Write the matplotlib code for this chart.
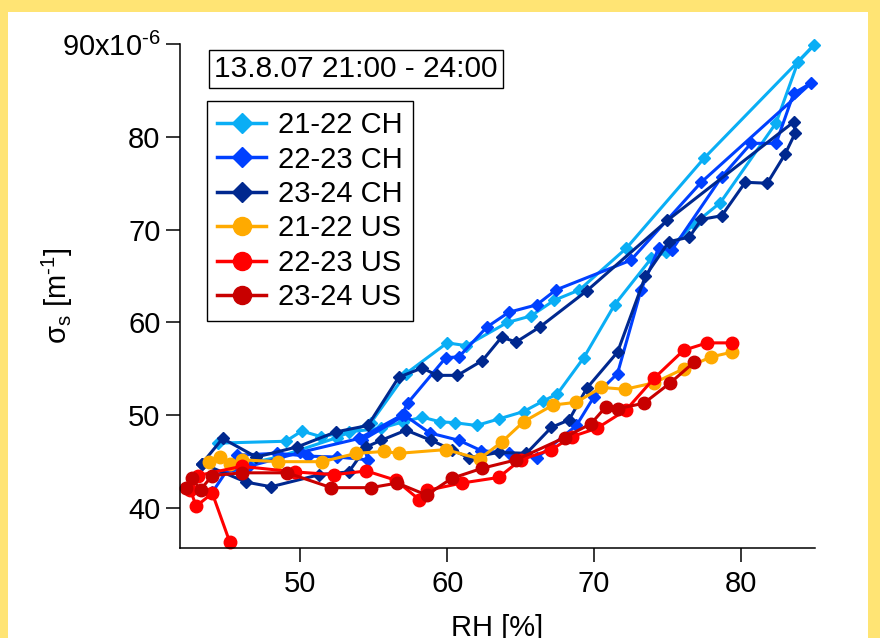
import matplotlib
matplotlib.use("Agg")
import matplotlib.pyplot as plt
from matplotlib.lines import Line2D
from matplotlib.patches import Rectangle

plt.rcParams['font.family'] = ['Liberation Sans', 'DejaVu Sans']
plt.rcParams['mathtext.fontset'] = 'custom'
plt.rcParams['mathtext.rm'] = 'Liberation Sans'
plt.rcParams['mathtext.it'] = 'Liberation Sans:italic'
plt.rcParams['mathtext.bf'] = 'Liberation Sans:bold'

# humidograms, RH [%] vs scattering coefficient [1e-6 m^-1]
ch_2122_rh = [44.4, 49.0, 50.1, 51.4, 53.3, 55.5, 57.0, 58.3, 59.5, 60.5, 62.0, 63.5, 65.2, 66.5,
              67.5, 69.3, 71.4, 73.9, 74.9, 76.8, 78.6, 82.4, 83.9, 85.0, 77.5, 72.2, 69.0, 67.3,
              65.7, 64.1, 61.3, 60.0, 57.2, 54.8, 52.5, 48.5, 45.5]
ch_2122_sig = [47.0, 47.2, 48.3, 47.7, 48.2, 48.6, 49.3, 49.8, 49.3, 49.2, 48.9, 49.6, 50.4, 51.5,
               52.3, 56.2, 61.9, 66.9, 67.6, 70.6, 72.9, 81.5, 88.1, 89.9, 77.7, 68.0, 63.5, 62.4,
               60.7, 60.0, 57.5, 57.8, 54.5, 49.2, 47.6, 45.5, 44.5]

ch_2223_rh = [44.0, 45.7, 48.4, 50.5, 52.5, 54.6, 54.2, 57.1, 58.8, 60.8, 62.3, 64.2, 66.1, 68.8,
              70.0, 71.6, 73.2, 74.4, 75.3, 78.7, 80.7, 82.4, 83.6, 84.8, 77.3, 72.5, 67.4, 66.1,
              64.2, 62.7, 60.8, 59.9, 57.3, 56.9, 54.0, 50.0, 46.5, 44.0]
ch_2223_sig = [41.7, 45.7, 45.9, 45.6, 45.5, 45.2, 47.3, 50.0, 48.1, 47.3, 46.2, 45.9, 45.4, 48.9,
               52.0, 54.5, 63.5, 68.0, 67.8, 75.7, 79.3, 79.3, 84.7, 85.8, 75.1, 66.7, 63.5, 61.9,
               61.1, 59.5, 56.3, 56.2, 51.3, 50.0, 47.5, 46.0, 44.5, 43.5]

ch_2324_rh = [43.3, 46.3, 48.0, 51.3, 53.3, 54.5, 55.5, 57.2, 58.9, 60.3, 61.5, 63.5, 65.4, 67.1,
              68.3, 69.5, 71.6, 73.5, 75.1, 76.5, 77.3, 78.7, 80.3, 81.8, 83.0, 83.7, 83.6, 75.0,
              69.5, 66.3, 64.7, 63.7, 62.4, 60.7, 59.3, 58.3, 56.7, 54.6, 52.4, 49.8, 47.0, 44.7, 43.3]
ch_2324_sig = [44.8, 42.8, 42.3, 43.6, 43.9, 46.6, 47.3, 48.4, 47.3, 46.3, 45.4, 46.0, 45.9, 48.7,
               49.5, 52.9, 56.8, 65.0, 68.7, 69.2, 71.1, 71.5, 75.1, 75.0, 78.1, 80.4, 81.6, 71.0,
               63.4, 59.5, 57.9, 58.4, 55.9, 54.3, 54.3, 55.1, 54.1, 48.9, 48.2, 46.6, 45.5, 47.5, 44.8]

us_2122_rh = [43.8, 44.5, 45.2, 46.0, 48.5, 51.5, 53.8, 55.7, 56.7, 59.9, 62.2, 63.7, 65.2, 67.2,
              68.8, 70.5, 72.1, 74.1, 76.1, 78.0, 79.4]
us_2122_sig = [45.0, 45.5, 44.8, 45.2, 45.0, 45.0, 45.9, 46.1, 45.9, 46.3, 45.3, 47.1, 49.3, 51.1,
               51.4, 53.0, 52.8, 53.5, 55.0, 56.3, 56.8]

us_2223_rh = [45.2, 44.0, 42.9, 42.5, 43.0, 46.0, 49.6, 52.3, 54.5, 56.5, 58.1, 58.6, 61.0, 63.5,
              65.0, 67.1, 68.5, 70.2, 72.2, 74.1, 76.1, 77.7, 79.4]
us_2223_sig = [36.3, 41.6, 40.2, 42.0, 43.5, 44.5, 43.9, 43.6, 44.0, 43.0, 40.9, 41.9, 42.7, 43.3,
               45.2, 46.3, 47.7, 48.6, 50.6, 54.0, 57.0, 57.8, 57.8]

us_2324_rh = [42.2, 42.6, 43.2, 44.0, 46.0, 49.1, 52.1, 54.8, 56.6, 58.6, 60.3, 62.4, 64.7, 68.0,
              69.8, 70.8, 71.6, 73.4, 75.2, 76.8]
us_2324_sig = [42.2, 43.2, 42.0, 43.5, 43.8, 43.8, 42.2, 42.2, 42.7, 41.4, 43.2, 44.3, 45.2, 47.6,
               49.1, 50.9, 50.7, 51.3, 53.5, 55.7]

labels = ['21-22 CH', '22-23 CH', '23-24 CH', '21-22 US', '22-23 US', '23-24 US']
colors = ['#0AAEF5', '#0040FF', '#00288F', '#FFAA00', '#FF0000', '#C80000']
markers = ['D', 'D', 'D', 'o', 'o', 'o']
series = [(ch_2122_rh, ch_2122_sig), (ch_2223_rh, ch_2223_sig), (ch_2324_rh, ch_2324_sig),
          (us_2122_rh, us_2122_sig), (us_2223_rh, us_2223_sig), (us_2324_rh, us_2324_sig)]

fig = plt.figure(figsize=(8.8, 6.38), dpi=100, facecolor='#FFE474')
fig.patches.append(Rectangle((8 / 880, 0), 860 / 880, 626 / 638, transform=fig.transFigure,
                             facecolor='white', edgecolor='none', zorder=-1))
ax = fig.add_axes([180 / 880, 1 - 548 / 638, 635 / 880, 504 / 638])
ax.set_facecolor('white')

for (rh, sig), c, m in zip(series, colors, markers):
    ms = 6 if m == 'D' else 9
    ax.plot(rh, sig, color=c, marker=m, markersize=ms, lw=2.2, clip_on=False)

ax.set_xlim(41.8, 85.05)
ax.set_ylim(35.7, 90)
ax.set_xticks([50, 60, 70, 80])
ax.set_yticks([40, 50, 60, 70, 80, 90])
ax.set_yticklabels(['40', '50', '60', '70', '80', '90x10$^\\mathregular{‐6}$'])
for s in ['top', 'right']:
    ax.spines[s].set_visible(False)
for s in ['left', 'bottom']:
    ax.spines[s].set_linewidth(1.1)
ax.tick_params(axis='both', direction='out', length=10, width=1.1, labelsize=21)
ax.tick_params(axis='x', pad=6)
ax.tick_params(axis='y', pad=4)

ax.set_xlabel('RH [%]', fontsize=21)
ax.xaxis.set_label_coords(0.5, -0.13)
ax.set_ylabel('σ$_\\mathregular{s}$ [m$^\\mathregular{‐1}$]', fontsize=21)
ax.yaxis.set_label_coords(-0.165, 0.5)

ax.text(0.277, 0.95, '13.8.07 21:00 - 24:00', transform=ax.transAxes, fontsize=21.5,
        ha='center', va='center',
        bbox=dict(boxstyle='square,pad=0.17', facecolor='white', edgecolor='black', lw=1))

handles = [Line2D([], [], color=c, marker=m, markersize=(10 if m == 'D' else 13), lw=2.5)
           for c, m in zip(colors, markers)]
leg = ax.legend(handles, labels, loc='upper left', bbox_to_anchor=(0.042, 0.887),
                borderaxespad=0, fontsize=21, frameon=True, fancybox=False, framealpha=1,
                edgecolor='black', handlelength=1.7, handletextpad=0.4, labelspacing=0.22,
                borderpad=0.35)
leg.get_frame().set_linewidth(1)

fig.savefig('out.png', dpi=100, facecolor=fig.get_facecolor())
